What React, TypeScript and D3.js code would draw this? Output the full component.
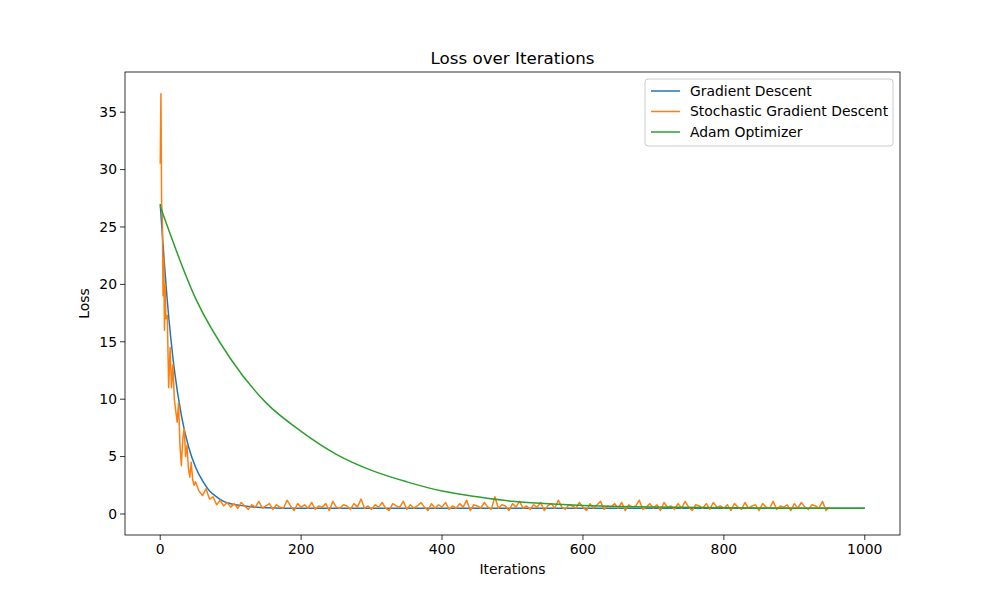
import React, { useEffect, useRef } from 'react';
import * as d3 from 'd3';

// SGD loss
const sgdIters = [0, 1, 2, 3, 4, 5, 6, 7, 8, 10, 12, 14, 16, 18, 20, 22, 24, 26, 28, 30, 32, 34, 36, 38, 40, 42, 44, 46, 48, 50, 55, 60, 65, 70, 75, 80, 85, 90, 95];
const sgdEarly = [30.5, 36.6, 27, 26, 19, 22.3, 16, 20, 17, 17.3, 11, 14.5, 11, 13, 10, 9, 8, 9.7, 6, 4.2, 6.5, 7.5, 5, 6, 4, 3.2, 4.5, 3, 2.5, 2.8, 2, 1.6, 2.2, 1.3, 1.5, 0.8, 1.2, 0.7, 1.0];
const sgdTail = [
  0.6, 0.9, 0.5, 1.0, 0.7, 0.4, 0.8, 0.6, 1.1, 0.5, 0.7, 0.9, 0.4, 0.8, 0.6, 0.5, 1.2, 0.7, 0.3, 0.9,
  0.6, 0.8, 0.5, 1.0, 0.4, 0.7, 0.6, 0.9, 0.3, 1.1, 0.6, 0.5, 0.8, 0.7, 0.4, 0.9, 0.6, 1.3, 0.5, 0.7,
  0.4, 0.8, 0.6, 1.0, 0.5, 0.3, 0.9, 0.7, 0.6, 1.1, 0.4, 0.8, 0.5, 0.7, 1.0, 0.6, 0.3, 0.9, 0.5, 0.8,
  0.6, 1.0, 0.4, 0.7, 0.5, 0.9, 0.6, 1.2, 0.3, 0.8, 0.7, 0.5, 1.0, 0.6, 0.4, 1.5, 0.5, 0.8, 0.7, 0.3,
  0.9, 0.6, 1.1, 0.5, 0.7, 0.4, 0.8, 0.6, 1.0, 0.3, 0.7, 0.9, 0.5, 1.2, 0.6, 0.4, 0.8, 0.7, 0.5, 1.0,
  0.6, 0.3, 0.9, 0.5, 0.8, 1.1, 0.4, 0.7, 0.6, 0.9, 0.5, 1.0, 0.3, 0.8, 0.6, 0.7, 1.2, 0.4, 0.6, 0.9,
  0.5, 0.8, 0.3, 1.0, 0.6, 0.7, 0.4, 0.9, 0.5, 1.1, 0.6, 0.3, 0.8, 0.7, 0.5, 0.9, 0.4, 1.0, 0.6, 0.7,
  0.5, 0.8, 0.3, 0.9, 0.6, 0.4, 1.0, 0.5, 0.7, 0.8, 0.3, 0.9, 0.6, 0.5, 1.1, 0.4, 0.7, 0.6, 0.8, 0.3,
  0.9, 0.5, 1.0, 0.6, 0.4, 0.8, 0.7, 0.5, 1.1, 0.3, 0.6,
];
const tailStart = 100;
const tailStep = 5;

const gdIters = [0, 10, 20, 30, 40, 50, 60, 70, 80, 90, 100, 120, 150, 200, 400, 600, 800, 1000];
const gdLoss = [27, 18.6, 12.6, 8.6, 5.9, 4.1, 2.9, 2.0, 1.5, 1.1, 0.9, 0.7, 0.55, 0.5, 0.5, 0.5, 0.5, 0.5];

const adamIters = [0, 50, 100, 150, 200, 250, 300, 350, 400, 450, 500, 550, 600, 650, 700, 800, 900, 1000];
const adamLoss = [26.8, 18.8, 13.5, 9.7, 7.2, 5.2, 3.8, 2.8, 2.0, 1.5, 1.1, 0.9, 0.75, 0.65, 0.6, 0.55, 0.5, 0.5];

const xTicks = [0, 200, 400, 600, 800, 1000];
const yTicks = [0, 5, 10, 15, 20, 25, 30, 35];
const seriesNames = ['Gradient Descent', 'Stochastic Gradient Descent', 'Adam Optimizer'];
const colors = ['#1f77b4', '#ff7f0e', '#2ca02c'];

const App: React.FC = () => {
  const ref = useRef<SVGSVGElement>(null);

  useEffect(() => {
    if (!ref.current) return;
    const svg = d3.select(ref.current);
    svg.selectAll('*').remove();
    const font = 'DejaVu Sans, sans-serif';
    const L = 125, R = 900, T = 72, B = 535;

    const x = d3.scaleLinear().domain([-50, 1050]).range([L, R]);
    const y = d3.scaleLinear().domain([-1.83, 38.5]).range([B, T]);

    svg.append('rect').attr('width', 1000).attr('height', 600).attr('fill', '#fff');

    const sgd: [number, number][] = sgdIters.map((it, i) => [it, sgdEarly[i]]);
    sgdTail.forEach((v, i) => sgd.push([tailStart + i * tailStep, v]));
    const gd: [number, number][] = gdIters.map((it, i) => [it, gdLoss[i]]);
    const adam: [number, number][] = adamIters.map((it, i) => [it, adamLoss[i]]);

    const smooth = d3.line<[number, number]>().x(d => x(d[0])).y(d => y(d[1])).curve(d3.curveMonotoneX);
    const straight = d3.line<[number, number]>().x(d => x(d[0])).y(d => y(d[1]));

    const plot = svg.append('g');
    plot.append('path').attr('d', smooth(gd)).attr('fill', 'none').attr('stroke', colors[0]).attr('stroke-width', 1.5);
    plot.append('path').attr('d', straight(sgd)).attr('fill', 'none').attr('stroke', colors[1]).attr('stroke-width', 1.5).attr('stroke-linejoin', 'round');
    plot.append('path').attr('d', smooth(adam)).attr('fill', 'none').attr('stroke', colors[2]).attr('stroke-width', 1.5);

    svg.append('rect').attr('x', L).attr('y', T).attr('width', R - L).attr('height', B - T)
      .attr('fill', 'none').attr('stroke', '#000').attr('stroke-width', 0.8);

    xTicks.forEach(t => {
      svg.append('line').attr('x1', x(t)).attr('x2', x(t)).attr('y1', B).attr('y2', B + 5).attr('stroke', '#000').attr('stroke-width', 0.8);
      svg.append('text').attr('x', x(t)).attr('y', B + 19).attr('text-anchor', 'middle')
        .attr('font-family', font).attr('font-size', 13.9).text(t);
    });
    yTicks.forEach(t => {
      svg.append('line').attr('x1', L - 5).attr('x2', L).attr('y1', y(t)).attr('y2', y(t)).attr('stroke', '#000').attr('stroke-width', 0.8);
      svg.append('text').attr('x', L - 8).attr('y', y(t)).attr('dy', '0.35em').attr('text-anchor', 'end')
        .attr('font-family', font).attr('font-size', 13.9).text(t);
    });

    svg.append('text').attr('x', (L + R) / 2).attr('y', 574).attr('text-anchor', 'middle')
      .attr('font-family', font).attr('font-size', 13.9).text('Iterations');
    svg.append('text').attr('transform', `translate(89,${(T + B) / 2}) rotate(-90)`).attr('text-anchor', 'middle')
      .attr('font-family', font).attr('font-size', 13.9).text('Loss');
    svg.append('text').attr('x', (L + R) / 2).attr('y', 64).attr('text-anchor', 'middle')
      .attr('font-family', font).attr('font-size', 16.7).text('Loss over Iterations');

    const lg = svg.append('g');
    lg.append('rect').attr('x', 645).attr('y', 79).attr('width', 248).attr('height', 67).attr('rx', 3)
      .attr('fill', '#fff').attr('fill-opacity', 0.8).attr('stroke', '#ccc');
    seriesNames.forEach((n, i) => {
      const yy = 91 + i * 20.5;
      lg.append('line').attr('x1', 651).attr('x2', 680).attr('y1', yy).attr('y2', yy).attr('stroke', colors[i]).attr('stroke-width', 1.5);
      lg.append('text').attr('x', 690).attr('y', yy).attr('dy', '0.35em')
        .attr('font-family', font).attr('font-size', 13.9).text(n);
    });
  }, []);

  return <svg ref={ref} width={1000} height={600} style={{ position: 'absolute', left: 0, top: 0, display: 'block' }} />;
};

export default App;
